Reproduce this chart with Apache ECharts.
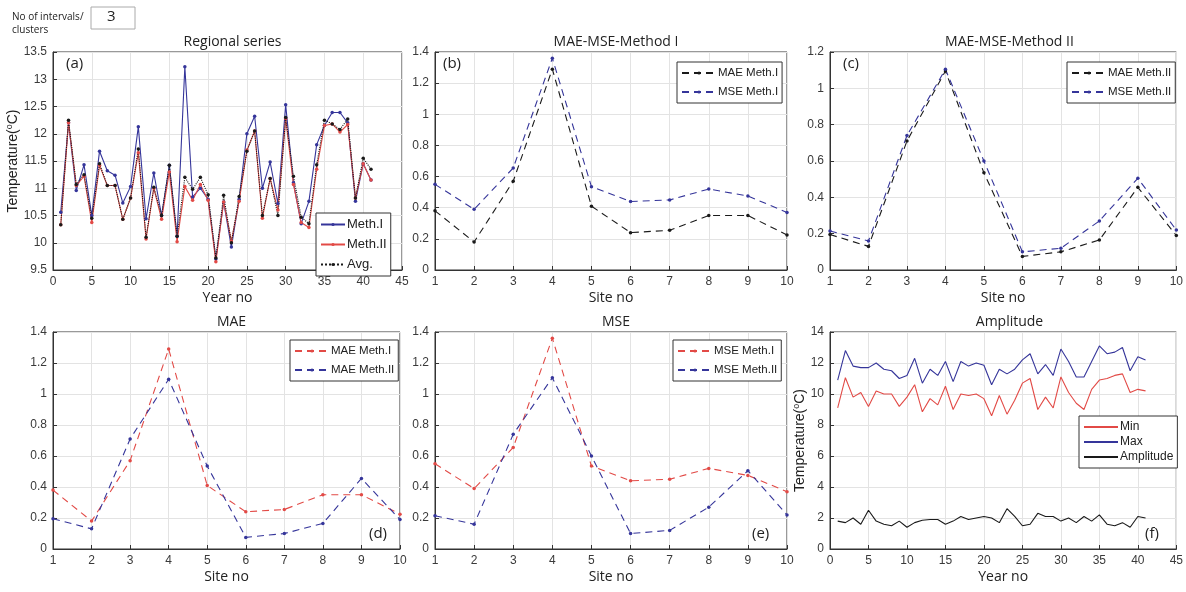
<!DOCTYPE html>
<html><head><meta charset="utf-8">
<script src="https://cdn.jsdelivr.net/npm/echarts@6/dist/echarts.min.js"></script>
<style>html,body{margin:0;padding:0;background:#fff}#c{width:1186px;height:592px}</style>
</head><body><div id="c"></div>
<script>
// ---------- DATA ----------
const years = [1,2,3,4,5,6,7,8,9,10,11,12,13,14,15,16,17,18,19,20,21,22,23,24,25,26,27,28,29,30,31,32,33,34,35,36,37,38,39,40,41];
const sites = [1,2,3,4,5,6,7,8,9,10];
// (a) Regional series
const methI  = [10.56,12.2,10.96,11.43,10.5,11.68,11.32,11.24,10.73,11.03,12.13,10.44,11.28,10.5,11.42,10.12,13.23,10.84,11.0,10.8,9.7,10.75,9.92,10.8,12.0,12.32,11.0,11.48,10.72,12.53,11.1,10.35,10.76,11.8,12.15,12.39,12.39,12.2,10.76,11.45,11.15];
const methII = [10.33,12.2,11.05,11.22,10.37,11.42,11.05,11.05,10.43,10.82,11.65,10.07,11.0,10.43,11.3,10.02,11.03,10.78,11.07,10.78,9.65,10.75,10.03,10.76,11.7,12.05,10.45,11.18,10.6,12.28,11.07,10.37,10.28,11.35,12.15,12.18,12.03,12.17,10.82,11.45,11.15];
const avgSeries = [10.33,12.25,11.07,11.25,10.45,11.45,11.05,11.05,10.43,10.82,11.72,10.1,11.02,10.5,11.42,10.12,11.2,10.98,11.2,10.88,9.72,10.87,10.0,10.85,11.68,12.05,10.5,11.18,10.5,12.3,11.22,10.47,10.35,11.43,12.25,12.18,12.08,12.27,10.82,11.55,11.35];
// (b)-(e) error measures per site
const maeMethI  = [0.38,0.18,0.57,1.29,0.41,0.24,0.255,0.35,0.35,0.225];
const mseMethI  = [0.55,0.39,0.655,1.36,0.535,0.44,0.45,0.52,0.475,0.37];
const maeMethII = [0.195,0.13,0.71,1.095,0.535,0.075,0.10,0.165,0.455,0.19];
const mseMethII = [0.215,0.16,0.74,1.105,0.60,0.10,0.12,0.27,0.505,0.22];
// (f) Amplitude
const minT = [9.1,11.05,9.8,10.1,9.2,10.2,10.0,10.0,9.2,9.8,10.6,8.85,9.7,9.3,10.5,9.0,10.0,9.9,10.0,9.7,8.6,9.9,8.7,9.6,10.7,11.0,9.0,9.8,9.1,11.1,10.1,9.4,9.0,10.3,10.9,11.0,11.2,11.3,10.1,10.3,10.2];
const maxT = [10.9,12.8,11.8,11.7,11.7,12.0,11.6,11.5,11.0,11.2,12.3,10.7,11.6,11.2,12.1,10.8,12.1,11.8,12.0,11.85,10.6,11.6,11.3,11.6,12.2,12.6,11.3,11.9,11.2,12.9,12.1,11.1,11.1,12.1,13.1,12.6,12.7,13.0,11.5,12.4,12.2];
const ampT = [1.8,1.7,2.0,1.6,2.5,1.8,1.6,1.5,1.8,1.4,1.7,1.85,1.9,1.9,1.6,1.8,2.1,1.9,2.0,2.1,2.0,1.7,2.6,2.1,1.5,1.6,2.3,2.1,2.1,1.8,2.0,1.7,2.1,1.8,2.2,1.6,1.5,1.7,1.4,2.1,2.0];
// titles / labels
const panelTitles = ['Regional series','MAE-MSE-Method I','MAE-MSE-Method II','MAE','MSE','Amplitude'];
const panelTags = ['(a)','(b)','(c)','(d)','(e)','(f)'];

// ---------- STYLE ----------
const BLUE='#35359a', RED='#e24a46', BLACK='#1a1a1a';
const grids = [
  {left:53, top:52, width:349, height:218},
  {left:435,top:52, width:352, height:218},
  {left:830,top:52, width:349, height:218},
  {left:53, top:332,width:347, height:217},
  {left:435,top:332,width:352, height:217},
  {left:830,top:332,width:349, height:217}
];
const pair = (xs, ys) => xs.map((x,i)=>[x, ys[i]]);
const tickFont = {color:'#3a3a3a', fontSize:12, fontFamily:'Liberation Sans, Arial'};
const nameFont = {color:'#222', fontSize:14, fontFamily:'Open Sans, sans-serif'};
function xAx(g, min, max, interval, name){
  return {type:'value', gridIndex:g, min, max, interval, name, nameLocation:'middle', nameGap:21,
    nameTextStyle:nameFont, axisLabel:Object.assign({margin:6}, tickFont),
    axisLine:{show:true, onZero:false, lineStyle:{color:'#333'}},
    axisTick:{show:true, inside:true, length:4, lineStyle:{color:'#333'}},
    splitLine:{show:true, lineStyle:{color:'#e3e3e3'}}};
}
function yAx(g, min, max, interval, name, gap){
  const o = {type:'value', gridIndex:g, min, max, interval,
    axisLabel:Object.assign({margin:6}, tickFont),
    axisLine:{show:true, lineStyle:{color:'#333'}},
    axisTick:{show:true, inside:true, length:4, lineStyle:{color:'#333'}},
    splitLine:{show:true, lineStyle:{color:'#e3e3e3'}}};
  if(name){
    o.name = '{a|Temperature(}{s|o}{a|C)}';
    o.nameLocation='middle'; o.nameGap = gap;
    o.nameTextStyle = {rich:{a:{color:'#222',fontSize:14,fontFamily:'Liberation Sans, Arial'},
                             s:{color:'#222',fontSize:9,fontFamily:'Liberation Sans, Arial', verticalAlign:'top', padding:[0,0,6,0]}}};
  }
  return o;
}
function line(name, g, data, color, type, sym){
  return {type:'line', name, xAxisIndex:g, yAxisIndex:g, data, color,
    showSymbol: !!sym, symbol:'circle', symbolSize:3.5, animation:false,
    itemStyle:{color}, lineStyle:{color, width:1.1, type}, silent:true};
}
function legend(names, left, top, itemWidth, fs, noSym){
  const o = {data:names, left, top, orient:'vertical', itemWidth, itemHeight:noSym?8:4, itemGap:noSym?3:7,
    padding:[5,4,5,4], borderColor:'#333', borderWidth:1, backgroundColor:'#fff',
    selectedMode:false, textStyle:{color:'#222', fontSize:fs, fontFamily:'Liberation Sans, Arial', padding:[0,0,0,-3]},
    formatter: n => n.split(':')[1]};
  if(noSym) o.itemStyle = {opacity:0};
  return o;
}
const dash=[7,5];
const tagStyle = t => ({text:t, fontSize:15, fill:'#222', fontFamily:'Open Sans, sans-serif'});
const option = {
  backgroundColor:'#fff',
  animation:false,
  grid: grids.map(g=>Object.assign({show:true, borderColor:'#333', borderWidth:1, backgroundColor:'#fff'}, g)),
  xAxis:[ xAx(0,0,45,5,'Year no'), xAx(1,1,10,1,'Site no'), xAx(2,1,10,1,'Site no'),
          xAx(3,1,10,1,'Site no'), xAx(4,1,10,1,'Site no'), xAx(5,0,45,5,'Year no') ],
  yAxis:[ yAx(0,9.5,13.5,0.5,true,24), yAx(1,0,1.4,0.2), yAx(2,0,1.2,0.2),
          yAx(3,0,1.4,0.2), yAx(4,0,1.4,0.2), yAx(5,0,14,2,true,19) ],
  legend:[
    legend(['a:Meth.I','a:Meth.II','a:Avg.'], 316, 213, 24, 13),
    legend(['b:MAE Meth.I','b:MSE Meth.I'], 677, 62, 34, 11.5),
    legend(['c:MAE Meth.II','c:MSE Meth.II'], 1067, 62, 34, 11.5),
    legend(['d:MAE Meth.I','d:MAE Meth.II'], 290, 340, 34, 11.5),
    legend(['e:MSE Meth.I','e:MSE Meth.II'], 673, 340, 34, 11.5),
    legend(['f:Min','f:Max','f:Amplitude'], 1079, 416, 34, 12, true)
  ],
  title: panelTitles.map((t,i)=>({text:t, left:grids[i].left+grids[i].width/2, top:grids[i].top-22, textAlign:'center',
      textStyle:{fontSize:14, fontWeight:'normal', color:'#222', fontFamily:'Open Sans, sans-serif'}})),
  graphic:[
    {type:'text', left:12, top:11, style:{text:'No of intervals/\nclusters', fontSize:10, lineHeight:13, fill:'#222', fontFamily:'Open Sans, sans-serif'}},
    {type:'rect', shape:{x:91, y:7, width:44, height:22}, style:{fill:'#fff', stroke:'#aaa', lineWidth:1}},
    {type:'text', left:107, top:9, style:{text:'3', fontSize:15, fill:'#222', fontFamily:'Open Sans, sans-serif'}},
    {type:'text', left:66, top:56, style:tagStyle(panelTags[0])},
    {type:'text', left:443, top:56, style:tagStyle(panelTags[1])},
    {type:'text', left:843, top:56, style:tagStyle(panelTags[2])},
    {type:'text', left:369, top:526, style:tagStyle(panelTags[3])},
    {type:'text', left:752, top:526, style:tagStyle(panelTags[4])},
    {type:'text', left:1145, top:526, style:tagStyle(panelTags[5])}
  ],
  series:[
    line('a:Meth.I',0,pair(years,methI),BLUE,'solid',true),
    line('a:Meth.II',0,pair(years,methII),RED,'solid',true),
    line('a:Avg.',0,pair(years,avgSeries),BLACK,'dotted',true),
    line('b:MAE Meth.I',1,pair(sites,maeMethI),BLACK,dash,true),
    line('b:MSE Meth.I',1,pair(sites,mseMethI),BLUE,dash,true),
    line('c:MAE Meth.II',2,pair(sites,maeMethII),BLACK,dash,true),
    line('c:MSE Meth.II',2,pair(sites,mseMethII),BLUE,dash,true),
    line('d:MAE Meth.I',3,pair(sites,maeMethI),RED,dash,true),
    line('d:MAE Meth.II',3,pair(sites,maeMethII),BLUE,dash,true),
    line('e:MSE Meth.I',4,pair(sites,mseMethI),RED,dash,true),
    line('e:MSE Meth.II',4,pair(sites,mseMethII),BLUE,dash,true),
    line('f:Min',5,pair(years,minT),RED,'solid',false),
    line('f:Max',5,pair(years,maxT),BLUE,'solid',false),
    line('f:Amplitude',5,pair(years,ampT),BLACK,'solid',false)
  ]
};
const chart = echarts.init(document.getElementById('c'), null, {renderer:'canvas'});
chart.setOption(option);
</script></body></html>
